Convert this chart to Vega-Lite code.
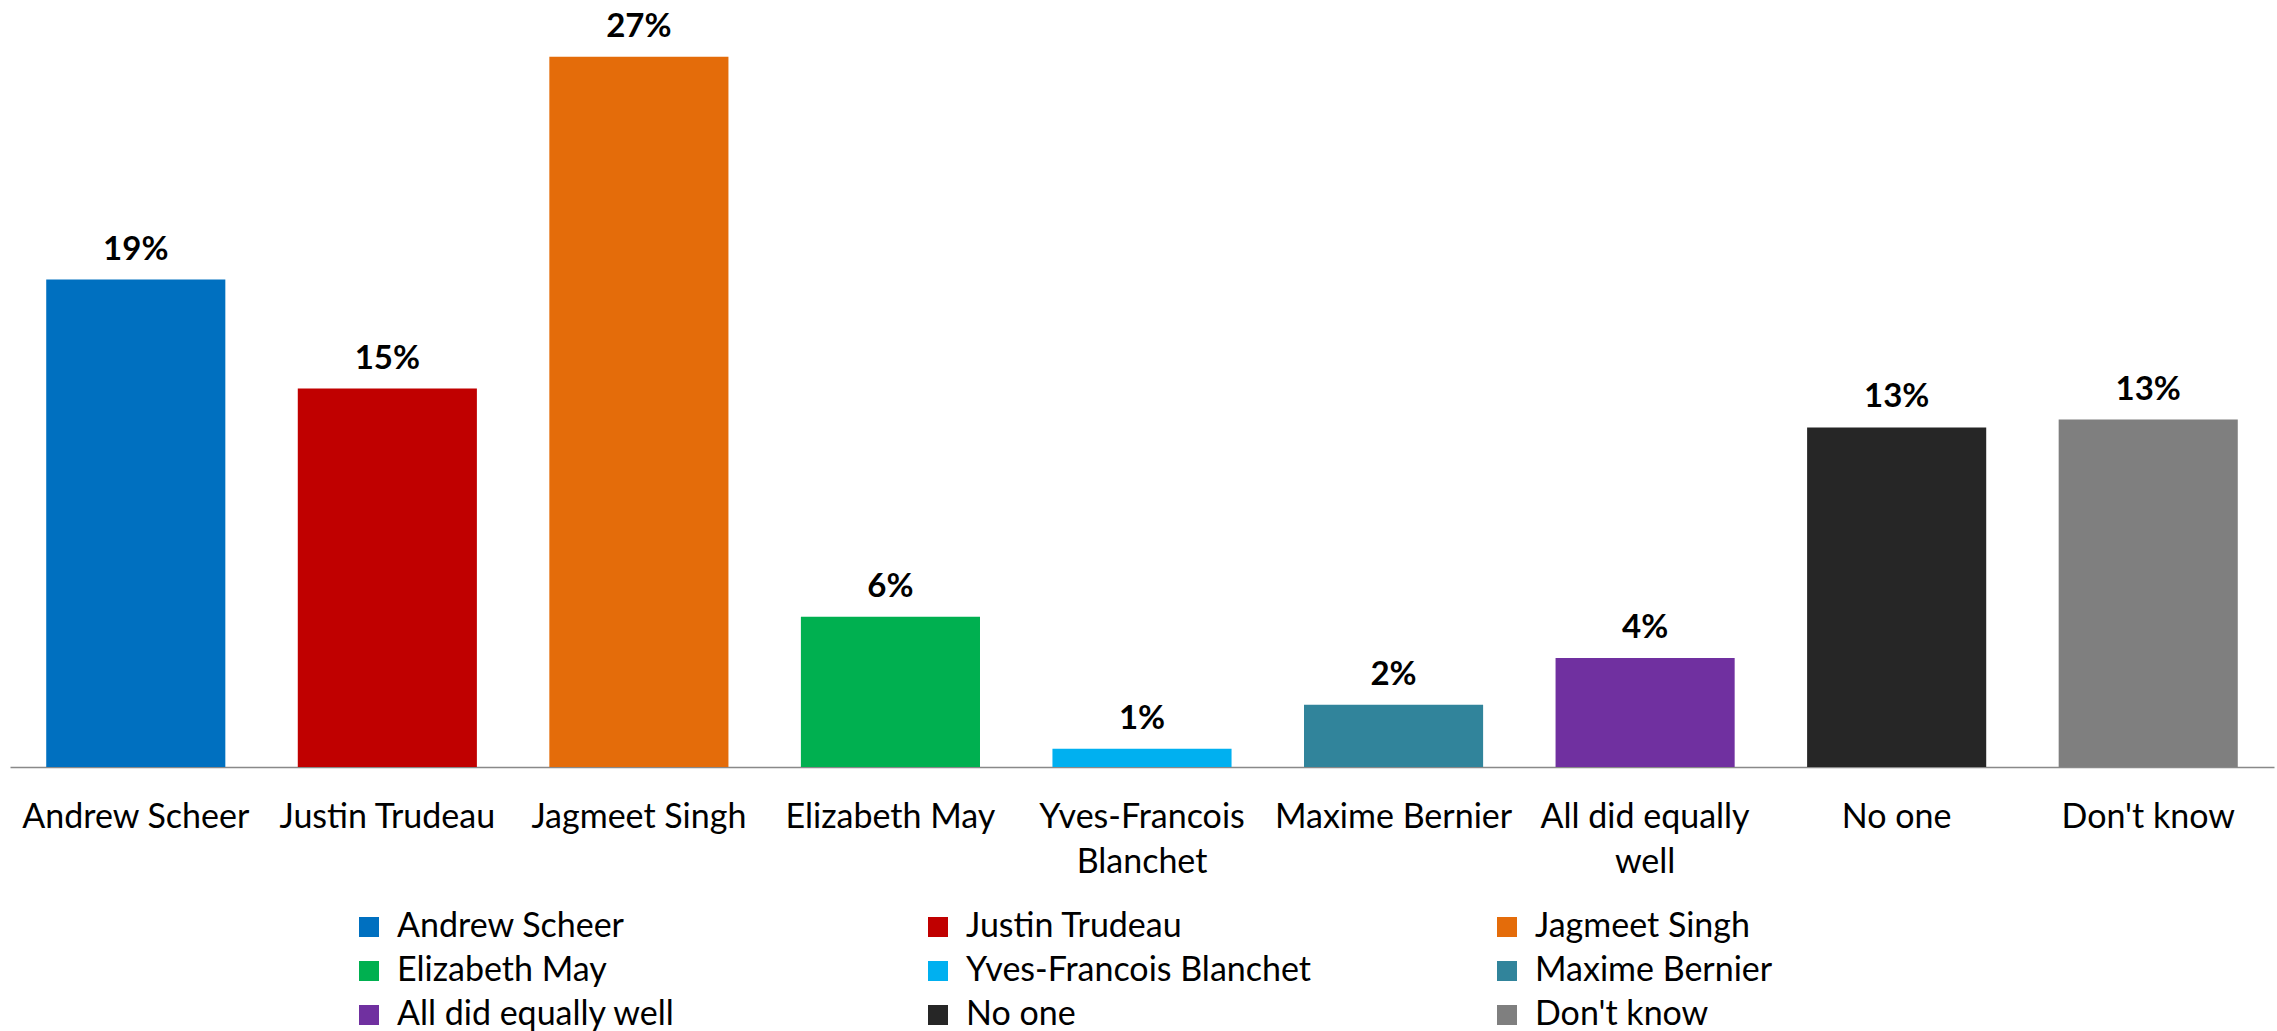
{
  "$schema": "https://vega.github.io/schema/vega-lite/v6.json",
  "width": 2264,
  "height": 757,
  "autosize": {"type": "none"},
  "padding": {"left": 10, "top": 10, "right": 3, "bottom": 264},
  "background": "white",
  "config": {"view": {"stroke": null}, "font": "Lato"},
  "data": {
    "values": [
      {"name": "Andrew Scheer", "value": 18.8, "label": "19%"},
      {"name": "Justin Trudeau", "value": 14.6, "label": "15%"},
      {"name": "Jagmeet Singh", "value": 27.4, "label": "27%"},
      {"name": "Elizabeth May", "value": 5.8, "label": "6%"},
      {"name": "Yves-Francois Blanchet", "value": 0.7, "label": "1%"},
      {"name": "Maxime Bernier", "value": 2.4, "label": "2%"},
      {"name": "All did equally well", "value": 4.2, "label": "4%"},
      {"name": "No one", "value": 13.1, "label": "13%"},
      {"name": "Don't know", "value": 13.4, "label": "13%"}
    ]
  },
  "encoding": {
    "x": {
      "field": "name",
      "type": "nominal",
      "sort": null,
      "scale": {"paddingInner": 0.288, "paddingOuter": 0.144},
      "axis": {
        "title": null,
        "labelAngle": 0,
        "ticks": false,
        "domainColor": "#898989",
        "domainWidth": 1.5,
        "labelFontSize": 34,
        "labelColor": "#000000",
        "labelBaseline": "alphabetic",
        "labelPadding": 60,
        "labelLineHeight": 45,
        "labelLimit": 400,
        "labelExpr": "datum.label == 'Yves-Francois Blanchet' ? ['Yves-Francois', 'Blanchet'] : datum.label == 'All did equally well' ? ['All did equally', 'well'] : datum.label"
      }
    },
    "y": {
      "field": "value",
      "type": "quantitative",
      "scale": {"domain": [0, 29.2], "nice": false},
      "axis": null
    }
  },
  "layer": [
    {
      "mark": {"type": "bar"},
      "encoding": {
        "color": {
          "field": "name",
          "type": "nominal",
          "sort": null,
          "scale": {
            "domain": ["Andrew Scheer", "Justin Trudeau", "Jagmeet Singh", "Elizabeth May", "Yves-Francois Blanchet", "Maxime Bernier", "All did equally well", "No one", "Don't know"],
            "range": ["#0070C0", "#C00000", "#E46C0A", "#00B050", "#00B0F0", "#31849B", "#7030A0", "#262626", "#7F7F7F"]
          },
          "legend": {
            "title": null,
            "orient": "none",
            "legendX": 342,
            "legendY": 900,
            "direction": "horizontal",
            "columns": 3,
            "gridAlign": "all",
            "columnPadding": 179,
            "rowPadding": 10,
            "padding": 0,
            "symbolType": "square",
            "symbolSize": 400,
            "symbolStrokeWidth": 0,
            "symbolOpacity": 1,
            "labelOffset": 11,
            "labelFontSize": 34,
            "labelColor": "#000000",
            "labelLimit": 500
          }
        }
      }
    },
    {
      "mark": {"type": "text", "fontWeight": "bold", "fontSize": 33, "baseline": "alphabetic", "dy": -20, "color": "#000000"},
      "encoding": {"text": {"field": "label"}}
    }
  ]
}
